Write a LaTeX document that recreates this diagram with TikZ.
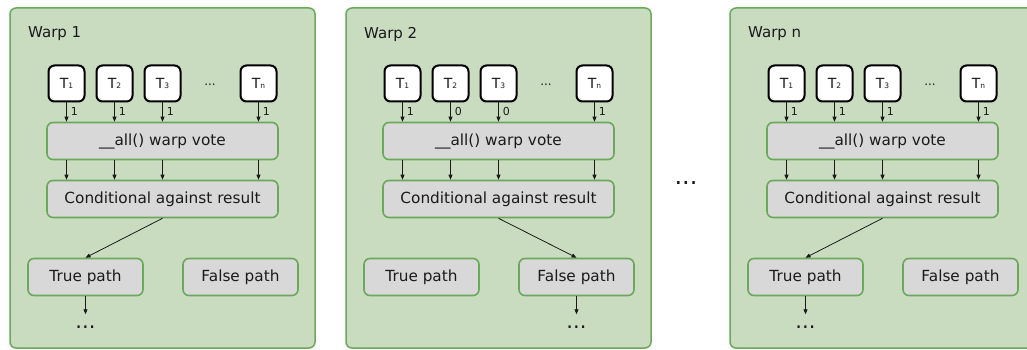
\documentclass[tikz,border=0pt]{standalone}
\usepackage{fontspec}
\setmainfont{DejaVu Sans}
\usetikzlibrary{arrows.meta}
\definecolor{warpfill}{RGB}{201,220,192}
\definecolor{warpline}{RGB}{106,168,90}
\definecolor{stepfill}{RGB}{216,216,216}
\definecolor{ink}{RGB}{26,26,26}
\begin{document}
\begin{tikzpicture}[x=1pt,y=-1pt,
  warpbox/.style={draw=warpline,fill=warpfill,line width=1.5pt,rounded corners=6pt,
    minimum width=305pt,minimum height=340pt,inner sep=0pt},
  thread/.style={draw=black,fill=white,line width=2pt,rounded corners=6pt,
    minimum width=36pt,minimum height=36pt,inner sep=0pt,font=\fontsize{14}{14}\selectfont,text=ink},
  stepbox/.style={draw=warpline,fill=stepfill,line width=1.6pt,rounded corners=6pt,
    minimum height=37pt,inner sep=0pt,font=\fontsize{15.3}{16}\selectfont,text=ink},
  votelbl/.style={font=\fontsize{11}{11}\selectfont,text=ink,inner sep=0pt,anchor=west},
  conn/.style={draw=ink,line width=0.8pt,-{Triangle[length=5pt,width=4pt]}},
  warptitle/.style={font=\fontsize{15}{15}\selectfont,text=ink,inner sep=0pt,anchor=west},
  bigdots/.style={font=\fontsize{21}{21}\selectfont,text=ink,inner sep=0pt,anchor=base},
  smalldots/.style={font=\fontsize{12}{12}\selectfont,text=ink,inner sep=0pt,anchor=base}]
\useasboundingbox (0,0) rectangle (1027,350);
\clip (0,0) rectangle (1027,350);
\newcommand{\thr}[1]{T{\fontsize{7.5}{7.5}\selectfont #1}}
\foreach \w/\dx/\nm/\va/\vb/\vc/\vd/\br in {a/0/1/1/1/1/1/tr, b/336/2/1/0/0/1/fa, c/720/n/1/1/1/1/tr} {
  \begin{scope}[xshift=\dx pt]
    \node[warpbox] (\w-box) at (162.5,178) {};
    \node[warptitle] (\w-title) at (28,34) {Warp \nm};
    \node[thread] (\w-t1) at (66.5,83.5) {\thr{1}};
    \node[thread] (\w-t2) at (114.5,83.5) {\thr{2}};
    \node[thread] (\w-t3) at (162.5,83.5) {\thr{3}};
    \node[thread] (\w-tn) at (258.5,83.5) {\thr{n}};
    \node[smalldots] (\w-tdots) at (210,86) {...};
    \node[stepbox,minimum width=231pt] (\w-vote) at (162.5,141) {\_\_all() warp vote};
    \node[stepbox,minimum width=231pt] (\w-cond) at (162.5,199) {Conditional against result};
    \node[stepbox,minimum width=115pt] (\w-tr) at (85.5,277) {True path};
    \node[stepbox,minimum width=115pt] (\w-fa) at (240.5,277) {False path};
    \foreach \t/\v in {t1/\va, t2/\vb, t3/\vc, tn/\vd} {
      \draw[conn] (\w-\t.south) -- (\w-\t.south |- \w-vote.north)
        node[votelbl,pos=0.45,xshift=4pt] {\v};
      \draw[conn] (\w-\t.south |- \w-vote.south) -- (\w-\t.south |- \w-cond.north);
    }
    \draw[conn] (\w-cond.south) -- (\w-\br.north);
    \coordinate (\w-end) at ([yshift=-18pt]\w-\br.south);
    \draw[conn] (\w-\br.south) -- (\w-end);
    \node[bigdots] (\w-dots) at ([yshift=-14pt]\w-end) {...};
  \end{scope}
}
\node[bigdots,font=\fontsize{24}{24}\selectfont] (between) at (686,184) {...};
\end{tikzpicture}
\end{document}
